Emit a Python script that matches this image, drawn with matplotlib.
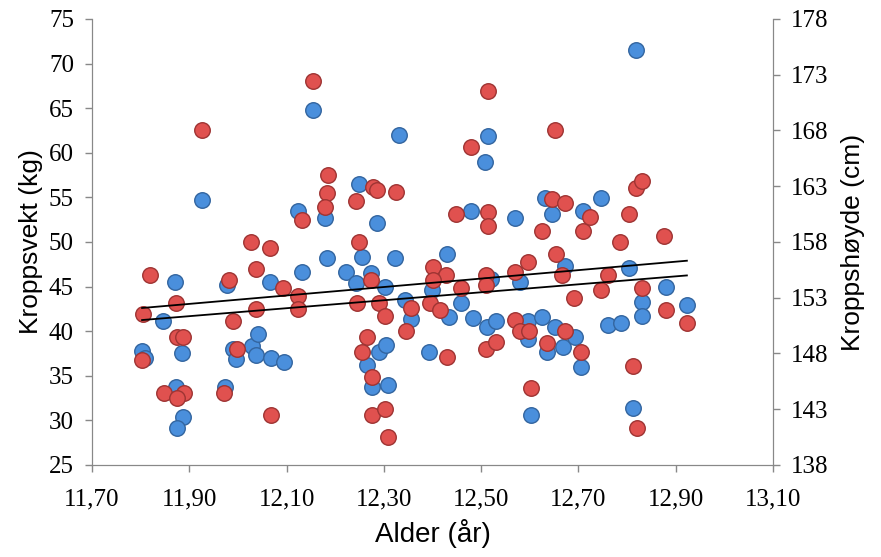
import matplotlib
matplotlib.use('Agg')
import matplotlib.pyplot as plt
import numpy as np

x_label = 'Alder (år)'
y_label = 'Kroppsvekt (kg)'
y2_label = 'Kroppshøyde (cm)'

# weight (kg), left axis
age_w = np.array([11.803, 11.808, 11.846, 11.870, 11.885, 11.872, 11.887, 11.874, 11.926, 11.973,
                  11.977, 11.989, 11.997, 12.028, 12.041, 12.038, 12.069, 12.094, 12.067, 12.123,
                  12.131, 12.155, 12.180, 12.184, 12.223, 12.242, 12.248, 12.256, 12.274, 12.285,
                  12.303, 12.291, 12.305, 12.266, 12.276, 12.309, 12.322, 12.332, 12.344, 12.356,
                  12.393, 12.400, 12.430, 12.434, 12.459, 12.480, 12.484, 12.508, 12.514, 12.512,
                  12.521, 12.531, 12.570, 12.580, 12.596, 12.596, 12.603, 12.625, 12.631, 12.635,
                  12.646, 12.652, 12.668, 12.672, 12.693, 12.705, 12.709, 12.746, 12.761, 12.787,
                  12.804, 12.812, 12.818, 12.830, 12.830, 12.880, 12.923])
weight = np.array([37.8, 37.0, 41.1, 45.5, 37.6, 33.7, 30.4, 29.2, 54.7, 33.7,
                   45.2, 38.0, 36.9, 38.3, 39.7, 37.3, 37.0, 36.6, 45.5, 53.5,
                   46.6, 64.8, 52.7, 48.2, 46.6, 45.4, 56.5, 48.3, 46.5, 52.1,
                   44.9, 37.7, 38.5, 36.2, 33.7, 34.0, 48.2, 62.0, 43.5, 41.4,
                   37.7, 44.6, 48.7, 41.6, 43.2, 53.5, 41.5, 59.0, 61.9, 40.5,
                   45.8, 41.1, 52.7, 45.5, 41.1, 39.1, 30.6, 41.6, 54.9, 37.7,
                   53.1, 40.5, 38.2, 47.3, 39.4, 36.0, 53.5, 54.9, 40.7, 40.9,
                   47.1, 31.4, 71.5, 43.3, 41.7, 44.9, 42.9])

# height (cm), right axis
age_h = np.array([11.819, 11.872, 11.805, 11.874, 11.887, 11.803, 11.848, 11.889, 11.874, 11.971,
                  11.981, 11.989, 11.999, 11.926, 12.026, 12.067, 12.038, 12.038, 12.092, 12.069,
                  12.123, 12.123, 12.131, 12.155, 12.186, 12.184, 12.180, 12.278, 12.285, 12.324,
                  12.242, 12.248, 12.274, 12.244, 12.291, 12.303, 12.356, 12.346, 12.266, 12.256,
                  12.276, 12.276, 12.303, 12.309, 12.402, 12.428, 12.402, 12.395, 12.416, 12.430,
                  12.449, 12.459, 12.480, 12.510, 12.510, 12.514, 12.514, 12.514, 12.510, 12.531,
                  12.570, 12.570, 12.580, 12.598, 12.596, 12.603, 12.625, 12.635, 12.646, 12.652,
                  12.654, 12.666, 12.672, 12.672, 12.691, 12.705, 12.709, 12.724, 12.746, 12.761,
                  12.785, 12.804, 12.812, 12.818, 12.830, 12.820, 12.830, 12.875, 12.880, 12.923])
height = np.array([155.0, 152.5, 151.5, 149.5, 149.5, 147.4, 144.5, 144.5, 144.0, 144.5,
                   154.6, 150.9, 148.4, 168.0, 158.0, 157.5, 155.6, 152.0, 153.9, 142.5,
                   153.2, 152.0, 160.0, 172.4, 164.0, 162.4, 161.1, 162.9, 162.7, 162.5,
                   161.7, 158.0, 154.6, 152.5, 152.5, 151.4, 152.1, 150.0, 149.5, 148.1,
                   145.9, 142.5, 143.0, 140.5, 155.8, 155.0, 154.6, 152.5, 151.9, 147.7,
                   160.5, 153.9, 166.5, 155.0, 154.1, 171.5, 160.7, 159.4, 148.4, 149.0,
                   155.3, 151.0, 150.0, 150.0, 156.2, 144.9, 159.0, 148.9, 161.9, 168.0,
                   156.9, 155.0, 161.5, 150.0, 153.0, 148.1, 159.0, 160.2, 153.7, 155.0,
                   158.0, 160.5, 146.9, 162.8, 163.5, 141.3, 153.9, 158.5, 151.9, 150.7])

# trend lines (values at first and last age)
trend_x = [11.803, 12.923]
trend_w = [42.6, 47.9]      # kg
trend_h = [151.0, 155.0]    # cm

x_ticks = [11.70, 11.90, 12.10, 12.30, 12.50, 12.70, 12.90, 13.10]
x_ticklabels = ['11,70', '11,90', '12,10', '12,30', '12,50', '12,70', '12,90', '13,10']

fig = plt.figure(figsize=(8.81, 5.57), dpi=100)
ax = fig.add_axes([0.1044, 0.1652, 0.7730, 0.8007])
ax2 = ax.twinx()

ax.set_xlim(11.70, 13.10)
ax.set_ylim(25, 75)
ax2.set_ylim(138, 178)

ax.scatter(age_w, weight, s=125, c='#4a8fdc', edgecolors='#33659f', linewidths=1.0, zorder=3)
ax2.scatter(age_h, height, s=125, c='#e0514f', edgecolors='#9e3433', linewidths=1.0, zorder=3)

# both lines go on the top axes so they sit over the markers
def kg_to_cm(v):
    return 138 + (np.asarray(v) - 25) * (178 - 138) / (75 - 25)

ax2.plot(trend_x, kg_to_cm(trend_w), c='k', lw=1.3, zorder=4)
ax2.plot(trend_x, trend_h, c='k', lw=1.3, zorder=4)

serif = 'Liberation Serif'
ax.set_xticks(x_ticks)
ax.set_xticklabels(x_ticklabels, family=serif, size=18)
ax.set_yticks(range(25, 76, 5))
ax.set_yticklabels([str(v) for v in range(25, 76, 5)], family=serif, size=18)
ax2.set_yticks(range(138, 179, 5))
ax2.set_yticklabels([str(v) for v in range(138, 179, 5)], family=serif, size=18)

for a in (ax, ax2):
    a.tick_params(direction='out', length=5, width=1, color='#888888', pad=8)
    for side in ('left', 'right', 'bottom'):
        a.spines[side].set_color('#888888')
    a.spines['top'].set_visible(False)
ax.tick_params(axis='x', pad=12)

ax.set_xlabel(x_label, family='Liberation Sans', size=20, labelpad=6)
ax.set_ylabel(y_label, family='Liberation Sans', size=19, labelpad=4)
ax2.set_ylabel(y2_label, family='Liberation Sans', size=19, labelpad=9)

fig.savefig('out.png', dpi=100)
